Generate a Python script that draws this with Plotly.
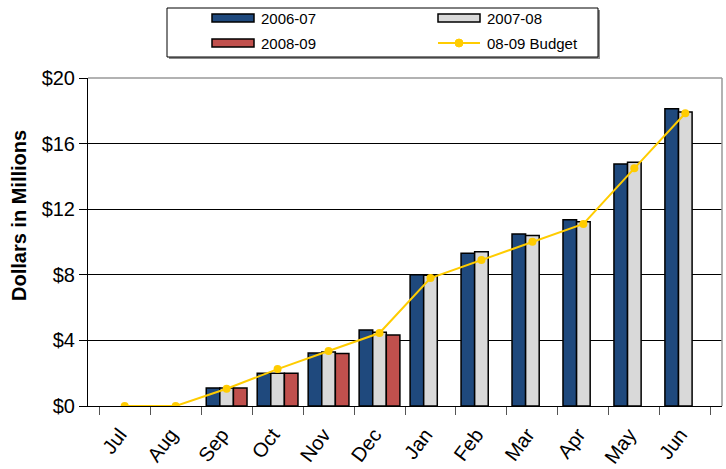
import plotly.graph_objects as go

months = ["Jul", "Aug", "Sep", "Oct", "Nov", "Dec",
          "Jan", "Feb", "Mar", "Apr", "May", "Jun"]

# Cumulative revenue, millions of dollars
fy_2006_07 = [None, None, 1.1, 2.0, 3.23, 4.63, 8.0, 9.31, 10.49, 11.36, 14.76, 18.13]
fy_2007_08 = [None, None, 1.1, 2.0, 3.3, 4.5, 7.98, 9.41, 10.39, 11.24, 14.86, 17.93]
fy_2008_09 = [None, None, 1.1, 2.0, 3.2, 4.33, None, None, None, None, None, None]
budget_08_09 = [0.0, 0.0, 1.05, 2.25, 3.35, 4.45, 7.8, 8.9, 10.02, 11.1, 14.49, 17.85]

y_ticks = [0, 4, 8, 12, 16, 20]
y_tick_labels = ["$0", "$4", "$8", "$12", "$16", "$20"]

FONT = "Liberation Sans, Arial, sans-serif"
BLUE, GREY, RED, GOLD = "#1F497D", "#D9D9D9", "#C0504D", "#FFCC00"
outline = dict(color="#000000", width=1.5)

W, H = 726, 469
M_L, M_R, M_T, M_B = 88, 4, 78, 63
PW, PH = W - M_L - M_R, H - M_T - M_B


def px_x(px):
    """Page pixel column -> paper x."""
    return (px - M_L) / PW


def px_y(py):
    """Page pixel row -> paper y."""
    return (H - M_B - py) / PH


fig = go.Figure()
fig.add_trace(go.Bar(name="2006-07", x=months, y=fy_2006_07,
                     marker=dict(color=BLUE, line=outline)))
fig.add_trace(go.Bar(name="2007-08", x=months, y=fy_2007_08,
                     marker=dict(color=GREY, line=outline)))
fig.add_trace(go.Bar(name="2008-09", x=months, y=fy_2008_09,
                     marker=dict(color=RED, line=outline)))
fig.add_trace(go.Scatter(name="08-09 Budget", x=months, y=budget_08_09,
                         mode="lines+markers",
                         line=dict(color=GOLD, width=2),
                         marker=dict(color=GOLD, size=8)))

shapes = []
annotations = []

# Legend box with drop shadow
shapes.append(dict(type="rect", xref="paper", yref="paper", layer="above",
                   x0=px_x(169), x1=px_x(600), y0=px_y(59), y1=px_y(10),
                   line=dict(width=0), fillcolor="#8C8C8C"))
shapes.append(dict(type="rect", xref="paper", yref="paper", layer="above",
                   x0=px_x(167), x1=px_x(598), y0=px_y(57), y1=px_y(8),
                   line=dict(color="#000000", width=1), fillcolor="#FFFFFF"))

# Legend entries: (label, colour, kind, left px, row centre px)
legend_items = [
    ("2006-07", BLUE, "bar", 212, 18),
    ("2007-08", GREY, "bar", 438, 18),
    ("2008-09", RED, "bar", 212, 43),
    ("08-09 Budget", GOLD, "line", 438, 43),
]
for label, colour, kind, left, cy in legend_items:
    if kind == "bar":
        shapes.append(dict(type="rect", xref="paper", yref="paper", layer="above",
                           x0=px_x(left), x1=px_x(left + 42),
                           y0=px_y(cy + 4), y1=px_y(cy - 4),
                           line=dict(color="#000000", width=1.5), fillcolor=colour))
    else:
        shapes.append(dict(type="line", xref="paper", yref="paper", layer="above",
                           x0=px_x(left), x1=px_x(left + 42),
                           y0=px_y(cy), y1=px_y(cy),
                           line=dict(color=colour, width=2)))
        shapes.append(dict(type="circle", xref="paper", yref="paper", layer="above",
                           x0=px_x(left + 17), x1=px_x(left + 25),
                           y0=px_y(cy + 4), y1=px_y(cy - 4),
                           line=dict(color=colour, width=1), fillcolor=colour))
    annotations.append(dict(text=label, xref="paper", yref="paper",
                            x=px_x(left + 47), y=px_y(cy), xanchor="left",
                            yanchor="middle", showarrow=False,
                            font=dict(size=15, family=FONT, color="#000000")))

# Grey frame along the top and right of the plot area
shapes.append(dict(type="line", xref="paper", yref="paper", x0=0, x1=1, y0=1, y1=1,
                   line=dict(color="#999999", width=1.5)))
shapes.append(dict(type="line", xref="paper", yref="paper", x0=1, x1=1, y0=0, y1=1,
                   line=dict(color="#999999", width=1.5)))

# Y-axis title
annotations.append(dict(text="<b>Dollars in Millions</b>", xref="paper", yref="paper",
                        x=px_x(19), y=px_y(216), textangle=-90,
                        xanchor="center", yanchor="middle", showarrow=False,
                        font=dict(size=20, family=FONT, color="#000000")))

fig.update_layout(
    width=W, height=H,
    margin=dict(l=M_L, r=M_R, t=M_T, b=M_B),
    paper_bgcolor="#FFFFFF", plot_bgcolor="#FFFFFF",
    font=dict(family=FONT, color="#000000"),
    barmode="group", bargap=0.2, bargroupgap=0,
    showlegend=False,
    shapes=shapes, annotations=annotations,
    xaxis=dict(type="category", showgrid=False, showline=True,
               linecolor="#000000", linewidth=1,
               ticks="outside", ticklen=8, tickcolor="#555555",
               tickson="boundaries", tickangle=-53,
               ticklabelstandoff=8, ticklabelshift=-5, automargin=False,
               tickfont=dict(size=20, family=FONT)),
    yaxis=dict(range=[0, 20], tickvals=y_ticks, ticktext=y_tick_labels,
               showgrid=True, gridcolor="#000000", gridwidth=1,
               showline=True, linecolor="#000000", linewidth=1,
               ticks="outside", ticklen=8, tickcolor="#000000", automargin=False,
               tickfont=dict(size=20, family=FONT), zeroline=False),
)

fig.write_html("out.html")
